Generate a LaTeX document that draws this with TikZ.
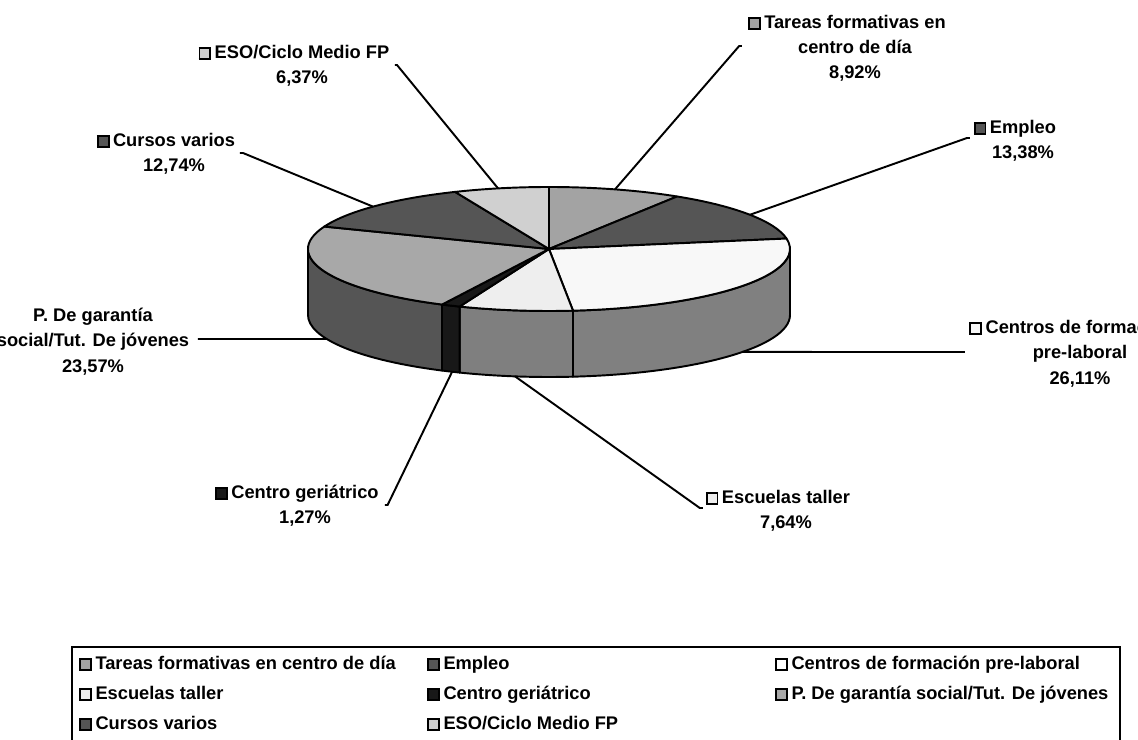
\documentclass[tikz,border=0pt]{standalone}
\usepackage{fontspec}
\setmainfont{Liberation Sans}
\usepackage{tikz}
\usepackage{xcolor}

\definecolor{cTar}{HTML}{A3A3A3}
\definecolor{cEmp}{HTML}{555555}
\definecolor{cCen}{HTML}{F8F8F8}
\definecolor{cEsc}{HTML}{EEEEEE}
\definecolor{cGer}{HTML}{181818}
\definecolor{cGar}{HTML}{A8A8A8}
\definecolor{cCur}{HTML}{555555}
\definecolor{cEso}{HTML}{D0D0D0}
\definecolor{sCen}{HTML}{808080}
\definecolor{sEsc}{HTML}{7F7F7F}
\definecolor{sGer}{HTML}{181818}
\definecolor{sGar}{HTML}{555555}

\newcommand{\sq}[1]{{\setlength{\fboxrule}{1.1pt}\setlength{\fboxsep}{0pt}\fcolorbox{black}{#1}{\rule{0pt}{5pt}\rule{5pt}{0pt}}}}
\newcommand{\lsq}[1]{\llap{\sq{#1}\hspace{2pt}}}

\begin{document}
\begin{tikzpicture}[scale=0.2,
    pie edge/.style={draw=black, line width=1.1pt, line join=round},
    leader/.style={draw=black, line width=1.1pt},
    lbl/.style={font=\bfseries\fontsize{10.4}{14.5}\selectfont, align=center, anchor=base},
    leg/.style={font=\bfseries\fontsize{10.4}{14.5}\selectfont, anchor=base west}]
\tikzstyle{every node}+=[inner sep=0pt]
\useasboundingbox (0,0) rectangle (113.8,-74);
\clip (0,0) rectangle (113.8,-74);

% pie centre (top face and bottom rim)
\coordinate (pc) at (54.9,-24.9);
\coordinate (pb) at (54.9,-31.5);

% front sides
\foreach \a/\b/\c in {0/-84.276/sCen, -84.276/-111.78/sEsc, -111.78/-116.352/sGer, -116.352/-180/sGar}
  \filldraw[pie edge, fill=\c] (pc) ++(\a:24.1 and 6.2) arc[start angle=\a, end angle=\b, x radius=24.1, y radius=6.2] -- ++(0,-6.6) arc[start angle=\b, end angle=\a, x radius=24.1, y radius=6.2] -- cycle;

% top slices
\foreach \a/\b/\c in {90/57.888/cTar, 57.888/9.72/cEmp, 9.72/-84.276/cCen, -84.276/-111.78/cEsc, -111.78/-116.352/cGer, -116.352/-201.204/cGar, -201.204/-247.068/cCur, -247.068/-270/cEso}
  \filldraw[pie edge, fill=\c] (pc) -- ++(\a:24.1 and 6.2) arc[start angle=\a, end angle=\b, x radius=24.1, y radius=6.2] -- cycle;

% labels (base = last line)
\node[lbl] (tareas) at (85.5,-7.9) {\lsq{cTar}Tareas formativas en\\centro de día\\8,92\%};
\node[lbl] (empleo) at (102.3,-15.85) {\lsq{cEmp}Empleo\\13,38\%};
\node[lbl] (centros) at (108.0,-38.4) {\lsq{cCen}Centros de formación\\pre-laboral\\26,11\%};
\node[lbl] (escuelas) at (78.6,-52.85) {\lsq{cEsc}Escuelas taller\\7,64\%};
\node[lbl] (geriatrico) at (30.5,-52.35) {\lsq{cGer}Centro geriátrico\\1,27\%};
\node[lbl] (garantia) at (9.3,-37.2) {P. De garantía\\social/Tut. De jóvenes\\23,57\%};
\node[lbl] (cursos) at (17.4,-17.15) {\lsq{cCur}Cursos varios\\12,74\%};
\node[lbl] (eso) at (30.2,-8.35) {\lsq{cEso}ESO/Ciclo Medio FP\\6,37\%};

% leader ends
\path (pc) ++(74.1:24.1 and 6.2) coordinate (pTar);
\path (pc) ++(33.5:24.1 and 6.2) coordinate (pEmp);
\path (pb) ++(-36.6:24.1 and 6.2) coordinate (pCen);
\path (pb) ++(-98.1:24.1 and 6.2) coordinate (pEsc);
\path (pb) ++(-113.7:24.1 and 6.2) coordinate (pGer);
\path (pb) ++(-157.2:24.1 and 6.2) coordinate (pGar);
\path (pc) ++(136.9:24.1 and 6.2) coordinate (pCur);
\path (pc) ++(102.2:24.1 and 6.2) coordinate (pEso);
\coordinate (tTar) at (74.2,-4.6);
\coordinate (tEmp) at (97.0,-13.8);
\coordinate (tCen) at (96.5,-35.2);
\coordinate (tEsc) at (70.3,-50.8);
\coordinate (tGer) at (38.5,-50.5);
\coordinate (tGar) at (19.8,-33.9);
\coordinate (tCur) at (24.0,-15.3);
\coordinate (tEso) at (39.5,-6.5);

\draw[leader] (pTar) -- ([xshift=-0.28cm]tTar) -- (tTar);
\draw[leader] (pEmp) -- ([xshift=-0.3cm]tEmp) -- (tEmp);
\draw[leader] (pCen) -- (tCen);
\draw[leader] (pEsc) -- ([xshift=-0.32cm]tEsc) -- (tEsc);
\draw[leader] (pGer) -- ([xshift=0.26cm]tGer) -- (tGer);
\draw[leader] (pGar) -- (tGar);
\draw[leader] (pCur) -- ([xshift=0.3cm]tCur) -- (tCur);
\draw[leader] (pEso) -- ([xshift=0.2cm]tEso) -- (tEso);

% legend
\draw[line width=1.1pt] (7.2,-64.7) rectangle (112.0,-76);
\node[leg] (lTar) at (7.9,-66.9) {\sq{cTar}\hspace{2pt}Tareas formativas en centro de día};
\node[leg] (lEmp) at (42.7,-66.9) {\sq{cEmp}\hspace{2pt}Empleo};
\node[leg] (lCen) at (77.5,-66.9) {\sq{white}\hspace{2pt}Centros de formación pre-laboral};
\node[leg] (lEsc) at (7.9,-69.9) {\sq{cEsc}\hspace{2pt}Escuelas taller};
\node[leg] (lGer) at (42.7,-69.9) {\sq{cGer}\hspace{2pt}Centro geriátrico};
\node[leg] (lGar) at (77.5,-69.9) {\sq{cGar}\hspace{2pt}P. De garantía social/Tut. De jóvenes};
\node[leg] (lCur) at (7.9,-72.9) {\sq{cCur}\hspace{2pt}Cursos varios};
\node[leg] (lEso) at (42.7,-72.9) {\sq{cEso}\hspace{2pt}ESO/Ciclo Medio FP};
\end{tikzpicture}
\end{document}
